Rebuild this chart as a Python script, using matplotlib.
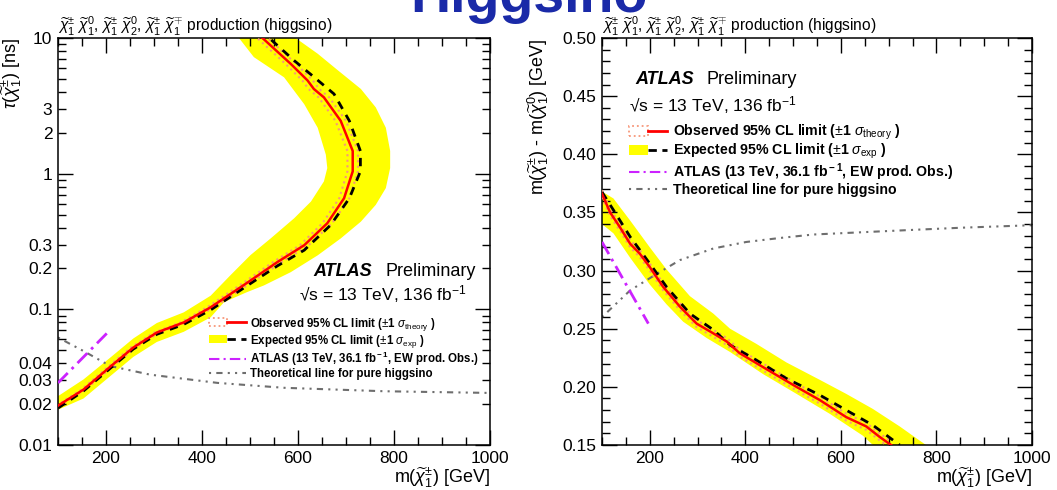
import numpy as np
import matplotlib
matplotlib.use("Agg")
import matplotlib.pyplot as plt
from matplotlib.lines import Line2D
from matplotlib.patches import Patch
from matplotlib.legend_handler import HandlerTuple
from matplotlib.ticker import FixedLocator, FuncFormatter, MultipleLocator, FormatStrFormatter

plt.rcParams['font.family'] = ['Liberation Sans', 'DejaVu Sans']
plt.rcParams['mathtext.fontset'] = 'custom'
plt.rcParams['mathtext.rm'] = 'Liberation Sans'
plt.rcParams['mathtext.it'] = 'Liberation Sans:italic'
plt.rcParams['mathtext.bf'] = 'Liberation Sans:bold'

# ---------------- left panel: lifetime vs mass ----------------
obs_tau = [0.0195, 0.0256, 0.0378, 0.0523, 0.0675, 0.0801, 0.1035, 0.163, 0.223, 0.297,
           0.431, 0.659, 1.04, 1.47, 2.45, 3.65, 4.21, 4.86, 6.44, 10.0]
obs_m = [100, 153, 209, 257, 306, 362, 418, 501, 557, 613, 661, 696, 714, 714, 689, 654, 633, 620, 585, 526]
obs_m_hi = [103, 157, 213, 262, 311, 368, 425, 509, 566, 622, 671, 707, 725, 725, 700, 665, 644, 631, 596, 537]
obs_m_lo = [97, 149, 205, 252, 301, 356, 411, 493, 548, 604, 651, 686, 703, 703, 678, 643, 622, 609, 574, 515]

exp_tau = [0.0187, 0.0250, 0.0368, 0.0510, 0.0655, 0.0775, 0.099, 0.155, 0.209, 0.273,
           0.418, 0.659, 1.04, 1.47, 2.45, 3.87, 5.13, 6.82, 10.0]
exp_m = [100, 153, 209, 257, 306, 362, 418, 501, 557, 613, 668, 707, 730, 730, 707, 675, 634, 592, 540]

band_lo_tau = [0.0229, 0.0304, 0.0441, 0.061, 0.0793, 0.095, 0.126, 0.178, 0.251, 0.333,
               0.469, 0.623, 0.877, 1.10, 1.38, 2.18, 3.25, 5.13, 7.23, 10.0]
band_lo_m = [100, 153, 209, 257, 306, 362, 418, 459, 501, 543, 592, 627, 654, 661, 658, 641, 613, 571, 508, 477]
band_hi_tau = [0.0182, 0.022, 0.0322, 0.0446, 0.0575, 0.0683, 0.0873, 0.113, 0.134, 0.150, 0.188, 0.250,
               0.333, 0.443, 0.589, 0.783, 1.10, 1.47, 2.18, 3.08, 4.21, 5.82, 7.66, 10.0]
band_hi_m = [100, 153, 209, 257, 306, 362, 418, 446, 494, 529, 585, 641, 689, 731, 762, 783, 792, 792,
             783, 762, 731, 682, 641, 595]

old_m = [100, 202]
old_tau = [0.0287, 0.0667]

theo_m = [100, 153, 209, 292, 432, 571, 780, 1000]
theo_tau = [0.062, 0.0493, 0.0382, 0.033, 0.0287, 0.0264, 0.0249, 0.0242]

# ---------------- right panel: mass splitting vs mass ----------------
obs2_m = [100, 117, 138, 159, 179, 200, 228, 263, 298, 333, 361, 388, 437, 507, 556, 611, 653, 681, 705]
obs2_dm = [0.366, 0.350, 0.337, 0.323, 0.3146, 0.303, 0.286, 0.269, 0.2544, 0.246, 0.239, 0.229,
           0.217, 0.200, 0.1886, 0.174, 0.166, 0.157, 0.150]
obs2_dm_hi = [0.369, 0.353, 0.340, 0.326, 0.3176, 0.306, 0.289, 0.272, 0.2574, 0.249, 0.242, 0.232,
              0.220, 0.203, 0.1916, 0.177, 0.169, 0.160, 0.153]
obs2_dm_lo = [0.363, 0.347, 0.334, 0.320, 0.3116, 0.300, 0.283, 0.266, 0.2514, 0.243, 0.236, 0.226,
              0.214, 0.197, 0.1856, 0.171, 0.163, 0.154, 0.147]

exp2_m = [100, 124, 159, 200, 235, 284, 333, 368, 423, 486, 556, 611, 667, 723]
exp2_dm = [0.3675, 0.352, 0.329, 0.306, 0.286, 0.263, 0.249, 0.236, 0.223, 0.2072, 0.1929, 0.180, 0.167, 0.150]

band2_hi_m = [100, 124, 159, 200, 235, 284, 333, 368, 423, 486, 556, 611, 667, 723, 778]
band2_hi_dm = [0.368, 0.362, 0.343, 0.320, 0.301, 0.278, 0.263, 0.250, 0.237, 0.221, 0.206,
               0.194, 0.181, 0.166, 0.150]
band2_lo_m = [100, 124, 159, 200, 235, 270, 319, 368, 437, 507, 576, 646, 667]
band2_lo_dm = [0.340, 0.332, 0.311, 0.288, 0.271, 0.256, 0.242, 0.230, 0.211, 0.194, 0.177, 0.158, 0.150]

old2_m = [100, 197]
old2_dm = [0.3246, 0.2544]

theo2_m = [100, 159, 214, 263, 333, 402, 472, 542, 646, 751, 855, 1000]
theo2_dm = [0.260, 0.283, 0.297, 0.309, 0.319, 0.3246, 0.328, 0.331, 0.333, 0.335, 0.3369, 0.339]

# ---------------- styles ----------------
YELLOW = '#ffff00'
RED = '#ff0000'
SALMON = '#f7977a'
VIOLET = '#cc22ff'
GREY = '#6e6e6e'
GREY_DASH = (0, (1, 2.5, 3, 2.5, 1, 2.5))
VIOLET_DASH = (0, (5, 2, 1, 2))

chi_pm = r'$\widetilde{\chi}^{\pm}_{1}$'
chi_0 = r'$\widetilde{\chi}^{0}_{1}$'
title_txt = (r'$\widetilde{\chi}^{\pm}_{1}$ $\widetilde{\chi}^{0}_{1}$, $\widetilde{\chi}^{\pm}_{1}$ '
             r'$\widetilde{\chi}^{0}_{2}$, $\widetilde{\chi}^{\pm}_{1}$ $\widetilde{\chi}^{\mp}_{1}$ '
             'production (higgsino)')

fig = plt.figure(figsize=(10.57, 4.90), dpi=100)
W, H = 1057.0, 490.0
ax1 = fig.add_axes([58 / W, 1 - 445 / H, 432 / W, 407 / H])
ax2 = fig.add_axes([602 / W, 1 - 445 / H, 430 / W, 407 / H])

# left panel
ax1.fill(np.concatenate([band_lo_m, band_hi_m[::-1]]),
         np.concatenate([band_lo_tau, band_hi_tau[::-1]]),
         color=YELLOW, lw=0, zorder=1)
ax1.plot(theo_m, theo_tau, color=GREY, lw=1.5, ls=GREY_DASH, zorder=2)
ax1.plot(old_m, old_tau, color=VIOLET, lw=2, ls=VIOLET_DASH, zorder=3)
ax1.plot(obs_m_hi, obs_tau, color=SALMON, lw=1.5, ls=':', zorder=3)
ax1.plot(obs_m_lo, obs_tau, color=SALMON, lw=1.5, ls=':', zorder=3)
ax1.plot(exp_m, exp_tau, color='black', lw=2, ls=(0, (3, 2.5)), zorder=4)
ax1.plot(obs_m, obs_tau, color=RED, lw=1.8, zorder=5)

ax1.set_yscale('log')
ax1.set_xlim(100, 1000)
ax1.set_ylim(0.01, 10)
ax1.yaxis.set_major_locator(FixedLocator([0.01, 0.1, 1, 10]))
ax1.yaxis.set_major_formatter(FormatStrFormatter('%g'))
minor_vals = [k * 10.0 ** e for e in (-2, -1, 0) for k in range(2, 10)]
ax1.yaxis.set_minor_locator(FixedLocator(minor_vals))
lab_vals = {0.02: '0.02', 0.03: '0.03', 0.04: '0.04', 0.2: '0.2', 0.3: '0.3', 2.0: '2', 3.0: '3'}
ax1.yaxis.set_minor_formatter(FuncFormatter(
    lambda v, p: next((s for k, s in lab_vals.items() if abs(v - k) < 1e-6 * k), '')))

# right panel
ax2.fill(np.concatenate([band2_hi_m, band2_lo_m[::-1]]),
         np.concatenate([band2_hi_dm, band2_lo_dm[::-1]]),
         color=YELLOW, lw=0, zorder=1)
ax2.plot(theo2_m, theo2_dm, color=GREY, lw=1.5, ls=GREY_DASH, zorder=2)
ax2.plot(old2_m, old2_dm, color=VIOLET, lw=2, ls=VIOLET_DASH, zorder=3)
ax2.plot(obs2_m, obs2_dm_hi, color=SALMON, lw=1.5, ls=':', zorder=3)
ax2.plot(obs2_m, obs2_dm_lo, color=SALMON, lw=1.5, ls=':', zorder=3)
ax2.plot(exp2_m, exp2_dm, color='black', lw=2, ls=(0, (3, 2.5)), zorder=4)
ax2.plot(obs2_m, obs2_dm, color=RED, lw=1.8, zorder=5)
ax2.set_xlim(100, 1000)
ax2.set_ylim(0.15, 0.50)
ax2.yaxis.set_major_locator(MultipleLocator(0.05))
ax2.yaxis.set_minor_locator(MultipleLocator(0.01))
ax2.yaxis.set_major_formatter(FormatStrFormatter('%.2f'))

for ax in (ax1, ax2):
    ax.xaxis.set_major_locator(MultipleLocator(200))
    ax.xaxis.set_minor_locator(MultipleLocator(50))
    ax.tick_params(which='both', direction='in', top=True, right=True, labelsize=12.5, width=1)
    ax.tick_params(which='major', length=11, pad=4)
    ax.tick_params(which='minor', length=5.5)
    for sp in ax.spines.values():
        sp.set_linewidth(1.1)
    ax.set_xlabel('m(' + chi_pm + ') [GeV]', fontsize=13, loc='right', labelpad=0)
    ax.set_title(title_txt, fontsize=11.2, loc='left', pad=3)

ax1.tick_params(axis='y', which='minor', labelsize=12.5, pad=4)
ax1.set_ylabel(r'$\tau$(' + chi_pm + ') [ns]', fontsize=13, loc='top')
ax1.yaxis.set_label_coords(-0.078, 1.0)
ax2.set_ylabel('m(' + chi_pm + ') - m(' + chi_0 + ') [GeV]', fontsize=13, loc='top')
ax2.yaxis.set_label_coords(-0.118, 1.0)

# ATLAS labels
sqrt_txt = '\u221as = 13 TeV, 136 fb$^{-1}$'
ax1.text(0.592, 0.426, 'ATLAS', transform=ax1.transAxes, fontsize=13, fontweight='bold',
         fontstyle='italic', ha='left', va='center')
ax1.text(0.757, 0.426, 'Preliminary', transform=ax1.transAxes, fontsize=13, ha='left', va='center')
ax1.text(0.558, 0.372, sqrt_txt, transform=ax1.transAxes, fontsize=12.5, ha='left', va='center')
ax2.text(0.077, 0.898, 'ATLAS', transform=ax2.transAxes, fontsize=13, fontweight='bold',
         fontstyle='italic', ha='left', va='center')
ax2.text(0.244, 0.898, 'Preliminary', transform=ax2.transAxes, fontsize=13, ha='left', va='center')
ax2.text(0.063, 0.835, sqrt_txt, transform=ax2.transAxes, fontsize=12.5, ha='left', va='center')

# legends
def make_legend(ax, anchor, fsize, hlen, spacing):
    h_obs = (Patch(facecolor='white', edgecolor=SALMON, linestyle=':', lw=1.3),
             Line2D([], [], color=RED, lw=2))
    h_exp = (Patch(facecolor=YELLOW, edgecolor='none'),
             Line2D([], [], color='black', lw=2, ls=(0, (3, 2))))
    h_old = Line2D([], [], color=VIOLET, lw=1.5, ls=VIOLET_DASH)
    h_theo = Line2D([], [], color=GREY, lw=1.5, ls=GREY_DASH)
    labels = [r'Observed 95% CL limit ($\pm$1 $\sigma_{\rm theory}$ )',
              r'Expected 95% CL limit ($\pm$1 $\sigma_{\rm exp}$ )',
              r'ATLAS (13 TeV, 36.1 fb$^{\bf -1}$, EW prod. Obs.)',
              'Theoretical line for pure higgsino']
    leg = ax.legend([h_obs, h_exp, h_old, h_theo], labels,
                    handler_map={tuple: HandlerTuple(ndivide=None, pad=0)},
                    loc='upper left', bbox_to_anchor=anchor, frameon=False,
                    prop={'weight': 'bold', 'size': fsize}, handlelength=hlen,
                    handletextpad=0.4, labelspacing=spacing, borderpad=0, borderaxespad=0)
    return leg

make_legend(ax1, (0.349, 0.318), 8.3, 3.2, 0.0)
make_legend(ax2, (0.063, 0.792), 10.2, 2.7, 0.0)

# big heading clipped at the top of the page
fig.text(0.5, 1 - 12 / H, 'Higgsino', fontsize=40, fontweight='bold', color='#1a2aa8',
         ha='center', va='baseline')

fig.savefig('out.png', dpi=100)
